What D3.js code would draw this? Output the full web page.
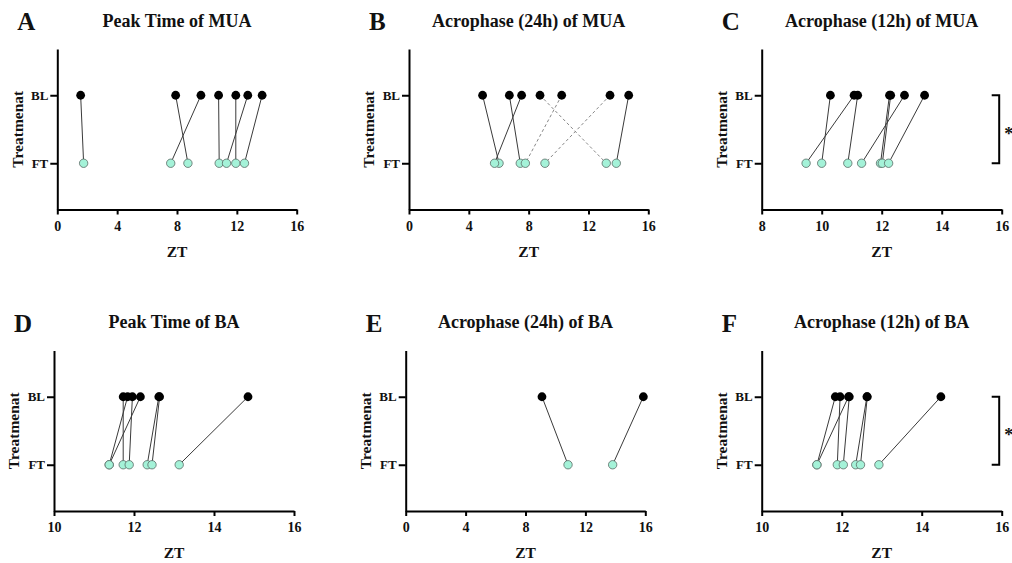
<!DOCTYPE html>
<html>
<head>
  <meta charset="UTF-8">
  <script src="https://d3js.org/d3.v7.min.js"></script>
  <title>Peak time and acrophase, BL vs FT</title>
  <style>
    body { margin: 0; background: #fff; }
    text { font-family: "Liberation Serif", "Times New Roman", serif; font-weight: bold; fill: #111; }
  </style>
</head>
<body>
  <svg id="chart"></svg>
  <script>

    var width = 1012;
    var height = 563;

    var treatments = ["BL", "FT"];

    // paired values (ZT), index i of BL goes with index i of FT
    var peakMuaBL = [1.56, 7.91, 9.60, 10.78, 11.93, 12.73, 13.69];
    var peakMuaFT = [1.76, 8.73, 7.58, 10.82, 11.93, 11.31, 12.51];

    var acro24MuaBL = [4.92, 6.71, 7.53, 8.76, 10.21, 13.44, 14.69];
    var acro24MuaFT = [6.02, 7.44, 5.72, 13.19, 7.78, 9.09, 13.86];
    var acro24MuaDashed = [false, false, false, true, true, true, false];

    var acro12MuaBL = [10.29, 11.08, 11.20, 12.26, 12.30, 12.76, 13.43];
    var acro12MuaFT = [10.00, 9.48, 10.87, 11.96, 12.02, 11.33, 12.23];

    var peakBaBL = [11.73, 11.84, 11.96, 12.16, 12.62, 12.64, 14.85];
    var peakBaFT = [11.73, 11.38, 11.88, 11.38, 12.33, 12.45, 13.13];

    var acro24BaBL = [9.10, 15.87];
    var acro24BaFT = [10.84, 13.82];

    var acro12BaBL = [11.84, 12.17, 11.96, 12.19, 12.63, 12.64, 14.48];
    var acro12BaFT = [11.38, 11.38, 11.89, 12.04, 12.35, 12.47, 12.93];

    var ticks24 = [0, 4, 8, 12, 16];
    var ticksC = [8, 10, 12, 14, 16];
    var ticksBA = [10, 12, 14, 16];

    var panels = [
      {letter: "A", title: "Peak Time of MUA", bl: peakMuaBL, ft: peakMuaFT, ticks: ticks24,
       x0: 57.3, x1: 296.7, top: 49, bottom: 209.5},
      {letter: "B", title: "Acrophase (24h) of MUA", bl: acro24MuaBL, ft: acro24MuaFT, dashed: acro24MuaDashed, ticks: ticks24,
       x0: 409, x1: 648.3, top: 49, bottom: 209.5},
      {letter: "C", title: "Acrophase (12h) of MUA", bl: acro12MuaBL, ft: acro12MuaFT, ticks: ticksC, star: true,
       x0: 761.7, x1: 1001.7, top: 49, bottom: 209.5},
      {letter: "D", title: "Peak Time of BA", bl: peakBaBL, ft: peakBaFT, ticks: ticksBA,
       x0: 54, x1: 294, top: 350.5, bottom: 511},
      {letter: "E", title: "Acrophase (24h) of BA", bl: acro24BaBL, ft: acro24BaFT, ticks: ticks24,
       x0: 405.7, x1: 645.3, top: 350.5, bottom: 511},
      {letter: "F", title: "Acrophase (12h) of BA", bl: acro12BaBL, ft: acro12BaFT, ticks: ticksBA, star: true,
       x0: 761.7, x1: 1001.7, top: 350.5, bottom: 511}
    ];

    var svg = d3.select("#chart")
        .attr("width", width)
        .attr("height", height);

    svg.append("rect").attr("width", width).attr("height", height).attr("fill", "#fff");

    panels.forEach(function(p) {
        var x = d3.scaleLinear()
            .domain(d3.extent(p.ticks))
            .range([p.x0, p.x1]);
        var y = d3.scalePoint()
            .domain(treatments)
            .range([p.top, p.bottom])
            .padding(0.68);

        var g = svg.append("g");
        var midX = (p.x0 + p.x1) / 2;
        var midY = (p.top + p.bottom) / 2;

        // pair lines
        p.bl.forEach(function(v, i) {
            var dashed = p.dashed && p.dashed[i];
            g.append("line")
                .attr("x1", x(v)).attr("y1", y("BL"))
                .attr("x2", x(p.ft[i])).attr("y2", y("FT"))
                .attr("stroke", dashed ? "#888" : "#3a3a3a")
                .attr("stroke-width", 1)
                .attr("stroke-dasharray", dashed ? "3,2.5" : null);
        });

        g.selectAll(".bl").data(p.bl).enter().append("circle")
            .attr("cx", function(d) { return x(d); })
            .attr("cy", y("BL"))
            .attr("r", 4.4)
            .attr("fill", "#000");

        g.selectAll(".ft").data(p.ft).enter().append("circle")
            .attr("cx", function(d) { return x(d); })
            .attr("cy", y("FT"))
            .attr("r", 4.2)
            .attr("fill", "#a4f2d8")
            .attr("stroke", "#5a6a64")
            .attr("stroke-width", 0.8);

        // axes
        var xAxis = g.append("g")
            .attr("transform", "translate(0," + p.bottom + ")")
            .call(d3.axisBottom(x).tickValues(p.ticks).tickFormat(d3.format("d")).tickSize(5).tickSizeOuter(0));
        xAxis.selectAll("text")
            .attr("y", 11.5).attr("dy", "0.71em")
            .style("font-size", "14px").style("font-family", null);

        var yAxis = g.append("g")
            .attr("transform", "translate(" + p.x0 + ",0)")
            .call(d3.axisLeft(y).tickSize(7).tickSizeOuter(0).tickPadding(2));
        yAxis.selectAll("text")
            .style("font-size", "13px").style("font-family", null);

        [xAxis, yAxis].forEach(function(a) {
            a.attr("font-family", null);
            a.select(".domain").attr("stroke", "#000").attr("stroke-width", 2);
            a.selectAll(".tick line").attr("stroke", "#000").attr("stroke-width", 2);
            a.selectAll("text").attr("fill", "#111");
        });

        // labels
        g.append("text")
            .attr("x", p.x0 - 40).attr("y", p.top - 19)
            .style("font-size", "25px")
            .text(p.letter);

        g.append("text")
            .attr("x", midX).attr("y", p.top - 22.3)
            .attr("text-anchor", "middle")
            .style("font-size", "18px")
            .text(p.title);

        g.append("text")
            .attr("x", midX).attr("y", p.bottom + 47)
            .attr("text-anchor", "middle")
            .style("font-size", "15.5px")
            .text("ZT");

        g.append("text")
            .attr("transform", "translate(" + (p.x0 - 34.6) + "," + midY + ") rotate(-90)")
            .attr("text-anchor", "middle")
            .style("font-size", "15.5px")
            .text("Treatmenat");

        if (p.star) {
            var bx = p.x1 - 2.5;
            g.append("path")
                .attr("d", "M" + (bx - 7.5) + "," + y("BL") + "H" + bx + "V" + y("FT") + "H" + (bx - 7.5))
                .attr("fill", "none")
                .attr("stroke", "#000")
                .attr("stroke-width", 2);
            g.append("text")
                .attr("x", bx + 9.5).attr("y", (y("BL") + y("FT")) / 2 + 10.5)
                .attr("text-anchor", "middle")
                .style("font-size", "18px")
                .text("*");
        }
    });

  </script>
</body>
</html>
